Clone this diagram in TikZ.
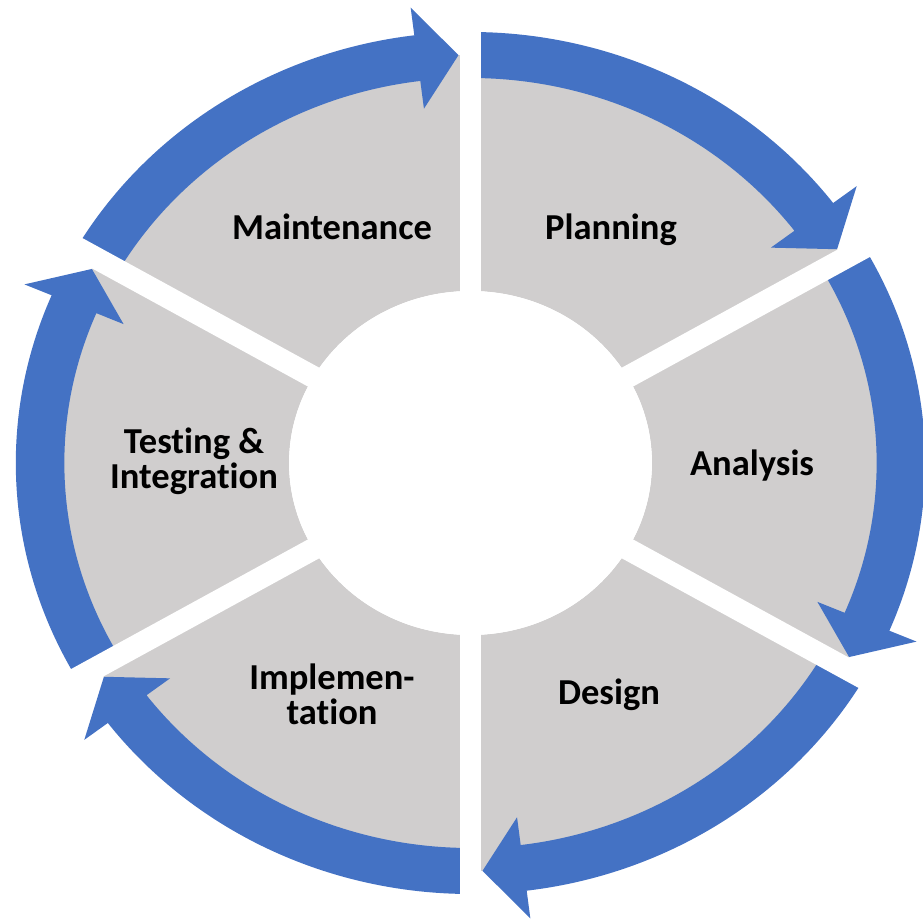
\documentclass[tikz,border=0pt]{standalone}
\usepackage{fontspec}
\setmainfont[Ligatures=NoCommon]{Carlito}
\definecolor{phasegray}{HTML}{D0CECE}
\definecolor{cycleblue}{HTML}{4472C4}
\tikzstyle{segment} = [fill=phasegray, even odd rule]
\tikzstyle{cyclearrow} = [fill=cycleblue]
\tikzstyle{gap} = [draw=white, line width=0.44cm]
\tikzstyle{phase} = [text centered, align=center,
                     font=\bfseries\fontsize{20.8}{20}\selectfont]
\begin{document}
\begin{tikzpicture}[x=0.02cm, y=0.02cm]
  \useasboundingbox (-470.5,-459) rectangle (452.5,463);
  \begin{scope}[xscale=1.055]
  %segments
  \path [segment] (0,0) circle [radius=408] (0,0) circle [radius=172];
  %arrows
  % maintenance -> planning
  \path [cyclearrow] (150:431) arc [start angle=150, end angle=97.1, radius=431]
    -- (97.1:459) -- (91.6:408) -- (97.1:357) -- (97.1:385)
    arc [start angle=97.1, end angle=150, radius=385] -- cycle;
  % planning -> analysis
  \path [cyclearrow] (90:431) arc [start angle=90, end angle=37.1, radius=431]
    -- (37.1:459) -- (31.6:408) -- (37.1:357) -- (37.1:385)
    arc [start angle=37.1, end angle=90, radius=385] -- cycle;
  % analysis -> design
  \path [cyclearrow] (30:431) arc [start angle=30, end angle=-22.9, radius=431]
    -- (-22.9:459) -- (-28.4:408) -- (-22.9:357) -- (-22.9:385)
    arc [start angle=-22.9, end angle=30, radius=385] -- cycle;
  % design -> implementation
  \path [cyclearrow] (-30:431) arc [start angle=-30, end angle=-82.9, radius=431]
    -- (-82.9:459) -- (-88.4:408) -- (-82.9:357) -- (-82.9:385)
    arc [start angle=-82.9, end angle=-30, radius=385] -- cycle;
  % implementation -> testing
  \path [cyclearrow] (-90:431) arc [start angle=-90, end angle=-142.9, radius=431]
    -- (-142.9:459) -- (-148.4:408) -- (-142.9:357) -- (-142.9:385)
    arc [start angle=-142.9, end angle=-90, radius=385] -- cycle;
  % testing -> maintenance
  \path [cyclearrow] (-150:431) arc [start angle=-150, end angle=-202.9, radius=431]
    -- (-202.9:459) -- (-208.4:408) -- (-202.9:357) -- (-202.9:385)
    arc [start angle=-202.9, end angle=-150, radius=385] -- cycle;
  %gaps
  \draw [gap] (0,0) -- (90:480);
  \draw [gap] (0,0) -- (30:480);
  \draw [gap] (0,0) -- (-30:480);
  \draw [gap] (0,0) -- (-90:480);
  \draw [gap] (0,0) -- (-150:480);
  \draw [gap] (0,0) -- (150:480);
  \fill [white] (0,0) circle [radius=172];
  \end{scope}
  %labels
  \node (maint) [phase, anchor=base] at (-138.5,223) {Maintenance};
  \node (plan) [phase, anchor=base] at (140.5,223) {Planning};
  \node (analysis) [phase, anchor=base] at (281.5,-13) {Analysis};
  \node (design) [phase, anchor=base] at (138.5,-242) {Design};
  \node (impl) [phase] at (-138.5,-231) {Implemen-\\tation};
  \node (test) [phase] at (-276.5,1.5) {Testing \&\\Integration};
\end{tikzpicture}
\end{document}
